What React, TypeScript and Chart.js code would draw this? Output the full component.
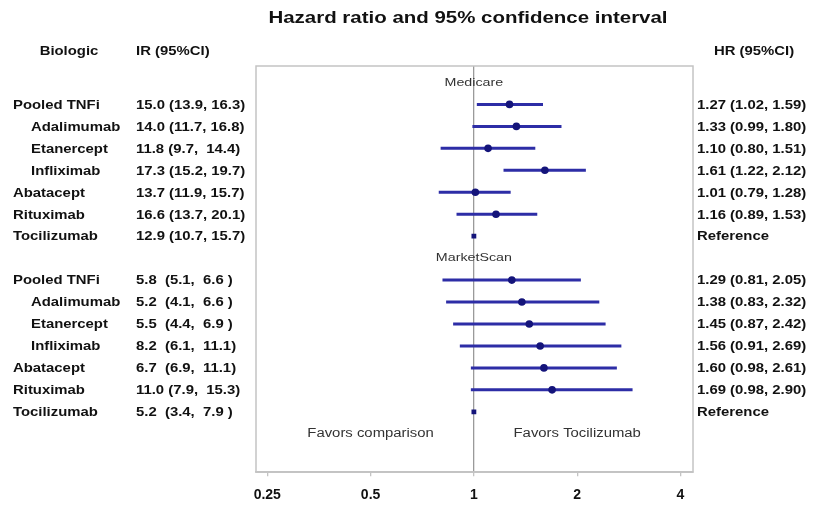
import { useEffect, useRef } from "react";
import { Chart, registerables } from "chart.js";

Chart.register(...registerables);

const title = "Hazard ratio and 95% confidence interval";
const headers = ["Biologic", "IR (95%CI)", "HR (95%CI)"];
const biologics = ["Pooled TNFi", "Adalimumab", "Etanercept", "Infliximab", "Abatacept", "Rituximab", "Tocilizumab"];
const isSubgroup = [false, true, true, true, false, false, false];
const cohorts = ["Medicare", "MarketScan"];

const medicareIR = [15.0, 14.0, 11.8, 17.3, 13.7, 16.6, 12.9];
const medicareIRLow = [13.9, 11.7, 9.7, 15.2, 11.9, 13.7, 10.7];
const medicareIRHigh = [16.3, 16.8, 14.4, 19.7, 15.7, 20.1, 15.7];
const medicareHR = [1.27, 1.33, 1.1, 1.61, 1.01, 1.16, 1];
const medicareHRLow = [1.02, 0.99, 0.8, 1.22, 0.79, 0.89, null];
const medicareHRHigh = [1.59, 1.8, 1.51, 2.12, 1.28, 1.53, null];

const marketScanIR = [5.8, 5.2, 5.5, 8.2, 6.7, 11.0, 5.2];
const marketScanIRLow = [5.1, 4.1, 4.4, 6.1, 6.9, 7.9, 3.4];
const marketScanIRHigh = [6.6, 6.6, 6.9, 11.1, 11.1, 15.3, 7.9];
const marketScanHR = [1.29, 1.38, 1.45, 1.56, 1.6, 1.69, 1];
const marketScanHRLow = [0.81, 0.83, 0.87, 0.91, 0.98, 0.98, null];
const marketScanHRHigh = [2.05, 2.32, 2.42, 2.69, 2.61, 2.9, null];

const xTicks = [0.25, 0.5, 1, 2, 4];
const favorsLabels = ["Favors comparison", "Favors Tocilizumab"];
const referenceLabel = "Reference";

const cohortData = [
  { ir: medicareIR, irLo: medicareIRLow, irHi: medicareIRHigh, hr: medicareHR, lo: medicareHRLow, hi: medicareHRHigh },
  { ir: marketScanIR, irLo: marketScanIRLow, irHi: marketScanIRHigh, hr: marketScanHR, lo: marketScanHRLow, hi: marketScanHRHigh },
];

const FONT = '"Liberation Sans", Arial, sans-serif';
const SX = 1.24;
const LINE_COLOR = "#2d2da6";
const POINT_COLOR = "#14147a";
const BOX_COLOR = "#c4c4c4";

const rowOf = (c: number, i: number) => c * 8 + 1 + i;
const cohortRow = (c: number) => c * 8;
const favorsRow = 16;

const fmtIR = (v: number, lo: number, hi: number) => {
  const l = lo.toFixed(1);
  return `${v.toFixed(1).padEnd(4, " ")} (${l},${" ".repeat(5 - l.length)}${hi.toFixed(1).padEnd(4, " ")})`;
};
const fmtHR = (v: number, lo: number | null, hi: number | null) =>
  lo == null || hi == null ? referenceLabel : `${v.toFixed(2)} (${lo.toFixed(2)}, ${hi.toFixed(2)})`;

function txt(ctx: CanvasRenderingContext2D, s: string, x: number, y: number, align: CanvasTextAlign, font: string, color: string) {
  ctx.save();
  ctx.font = font;
  ctx.fillStyle = color;
  ctx.textBaseline = "middle";
  ctx.textAlign = align;
  ctx.translate(x, y);
  ctx.scale(SX, 1);
  ctx.fillText(s, 0, 0);
  ctx.restore();
}

const textPlugin = {
  id: "forestText",
  beforeDatasetsDraw(chart: any) {
    const { ctx, chartArea } = chart;
    ctx.save();
    ctx.strokeStyle = BOX_COLOR;
    ctx.lineWidth = 1.5;
    ctx.strokeRect(chartArea.left, chartArea.top, chartArea.right - chartArea.left, chartArea.bottom - chartArea.top);
    ctx.restore();
  },
  afterDraw(chart: any) {
    const { ctx } = chart;
    const xs = chart.scales.x;
    const ys = chart.scales.y;
    const bold = `bold 12px ${FONT}`;
    txt(ctx, title, 468, 18, "center", `bold 16.5px ${FONT}`, "#111");
    txt(ctx, headers[0], 69, 52, "center", bold, "#111");
    txt(ctx, headers[1], 136, 52, "left", bold, "#111");
    txt(ctx, headers[2], 754, 52, "center", bold, "#111");
    cohortData.forEach((d, c) => {
      txt(ctx, cohorts[c], xs.getPixelForValue(1), ys.getPixelForValue(cohortRow(c)), "center", `11.5px ${FONT}`, "#333");
      biologics.forEach((b, i) => {
        const y = ys.getPixelForValue(rowOf(c, i)) + 1;
        txt(ctx, b, isSubgroup[i] ? 31 : 13, y, "left", bold, "#111");
        txt(ctx, fmtIR(d.ir[i], d.irLo[i], d.irHi[i]), 136, y, "left", bold, "#111");
        txt(ctx, fmtHR(d.hr[i], d.lo[i], d.hi[i]), 697, y, "left", bold, "#111");
      });
    });
    const fy = ys.getPixelForValue(favorsRow);
    txt(ctx, favorsLabels[0], xs.getPixelForValue(0.5), fy, "center", `12px ${FONT}`, "#333");
    txt(ctx, favorsLabels[1], xs.getPixelForValue(2), fy, "center", `12px ${FONT}`, "#333");
  },
};

export default function App() {
  const ref = useRef<HTMLCanvasElement | null>(null);
  useEffect(() => {
    if (!ref.current) return;
    const datasets: any[] = [];
    const pts: any[] = [];
    const refPts: any[] = [];
    cohortData.forEach((d, c) => {
      d.hr.forEach((v, i) => {
        const y = rowOf(c, i);
        if (d.lo[i] == null) refPts.push({ x: v, y });
        else pts.push({ x: v, y });
      });
    });
    datasets.push({
      data: pts,
      pointStyle: "circle",
      pointRadius: 3.8,
      backgroundColor: POINT_COLOR,
      borderColor: POINT_COLOR,
      borderWidth: 0,
      showLine: false,
    });
    datasets.push({
      data: refPts,
      pointStyle: "rect",
      pointRadius: 3.4,
      backgroundColor: POINT_COLOR,
      borderColor: POINT_COLOR,
      borderWidth: 0,
      showLine: false,
    });
    cohortData.forEach((d, c) => {
      d.hr.forEach((_v, i) => {
        const lo = d.lo[i];
        const hi = d.hi[i];
        if (lo == null || hi == null) return;
        const y = rowOf(c, i);
        datasets.push({
          data: [{ x: lo, y }, { x: hi, y }],
          showLine: true,
          borderColor: LINE_COLOR,
          borderWidth: 3,
          pointRadius: 0,
          borderCapStyle: "butt",
        });
      });
    });

    const chart = new Chart(ref.current, {
      type: "scatter",
      data: { datasets },
      options: {
        animation: false,
        responsive: true,
        maintainAspectRatio: false,
        layout: { padding: { left: 256, right: 126, top: 66, bottom: 10 } },
        plugins: { legend: { display: false }, tooltip: { enabled: false } },
        scales: {
          x: {
            type: "logarithmic",
            min: 0.2318,
            max: 4.35,
            afterBuildTicks: (scale: any) => {
              scale.ticks = xTicks.map((v) => ({ value: v }));
            },
            ticks: {
              callback: (v: any) => String(v),
              font: { family: FONT, size: 14, weight: "bold" },
              color: "#111",
              padding: 11,
              maxRotation: 0,
              autoSkip: false,
            },
            grid: {
              color: (ctx: any) => (ctx.tick && ctx.tick.value === 1 ? "#9a9a9a" : "rgba(0,0,0,0)"),
              lineWidth: 1.3,
              tickColor: BOX_COLOR,
              tickLength: 4,
              drawOnChartArea: true,
            },
            border: { display: true, color: BOX_COLOR, width: 1.5 },
          },
          y: {
            type: "linear",
            min: -0.75,
            max: 17.75,
            reverse: true,
            display: false,
          },
        },
      },
      plugins: [textPlugin],
    });
    return () => chart.destroy();
  }, []);
  return (
    <div style={{ position: "absolute", left: 0, top: 0, width: 819, height: 525, background: "#fff" }}>
      <canvas ref={ref} />
    </div>
  );
}
